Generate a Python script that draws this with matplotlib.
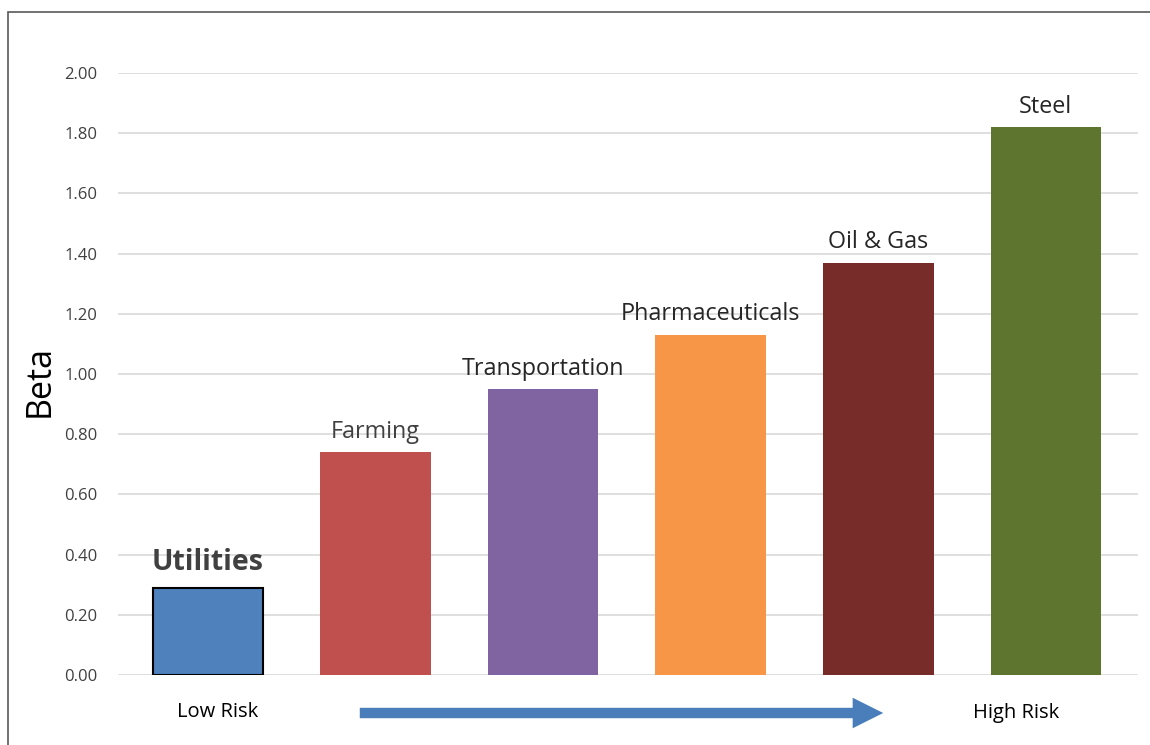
import matplotlib.pyplot as plt
from matplotlib.patches import Rectangle, FancyArrowPatch

plt.rcParams['font.family'] = ['Open Sans', 'DejaVu Sans']

# Industry betas, ordered from low to high risk
industries = ['Utilities', 'Farming', 'Transportation', 'Pharmaceuticals', 'Oil & Gas', 'Steel']
betas = [0.29, 0.74, 0.95, 1.13, 1.37, 1.82]
colors = ['#4f81bd', '#c0504d', '#8064a2', '#f79646', '#772c2a', '#5e7530']
yticks = [0.0, 0.2, 0.4, 0.6, 0.8, 1.0, 1.2, 1.4, 1.6, 1.8, 2.0]

text_color = '#404040'

fig = plt.figure(figsize=(11.5, 7.45), dpi=100)
ax = fig.add_axes([0.1026, 0.094, 0.887, 0.808])

x = range(len(industries))
bars = ax.bar(x, betas, width=0.66, color=colors, zorder=3)
bars[0].set_edgecolor('black')
bars[0].set_linewidth(1.5)

# Category labels sit just above each bar
for i, (name, b) in enumerate(zip(industries, betas)):
    if i == 0:
        ax.text(i, b + 0.035, name, ha='center', va='bottom', fontsize=20.5,
                fontweight='bold', color=text_color)
    else:
        ax.text(i, b + 0.028, name, ha='center', va='bottom', fontsize=16.8,
                color='#262626' if i > 1 else text_color)

ax.set_xlim(-0.537, 5.55)
ax.set_ylim(0, 2.0)
ax.set_yticks(yticks)
ax.set_yticklabels([f'{v:.2f}' for v in yticks], fontsize=12, color=text_color)
ax.set_xticks([])
ax.tick_params(axis='y', length=0, pad=15)
ax.grid(axis='y', color='#d9d9d9', linewidth=1.2, zorder=0)
for s in ax.spines.values():
    s.set_visible(False)

fig.text(40 / 1150, 1 - 381 / 745, 'Beta', rotation=90, ha='center', va='center',
         fontsize=24.5, color='black')

# Risk direction below the axis
fig.text(218 / 1150, 1 - 712 / 745, 'Low Risk', ha='center', va='center',
         fontsize=14.5, color='black')
fig.text(1016 / 1150, 1 - 713 / 745, 'High Risk', ha='center', va='center',
         fontsize=14.5, color='black')
arrow = FancyArrowPatch((357 / 1150, 1 - 713 / 745), (886 / 1150, 1 - 713 / 745),
                        transform=fig.transFigure,
                        arrowstyle='simple,head_length=22,head_width=22,tail_width=7.5',
                        mutation_scale=1, color='#4a7ebb', linewidth=0)
fig.add_artist(arrow)

# Thin frame around the chart area
fig.add_artist(Rectangle((8 / 1150, -0.05), 1.2, 1.05 - 12 / 745,
                         transform=fig.transFigure, fill=False,
                         edgecolor='#595959', linewidth=1.2))

fig.savefig('out.png', dpi=100)
